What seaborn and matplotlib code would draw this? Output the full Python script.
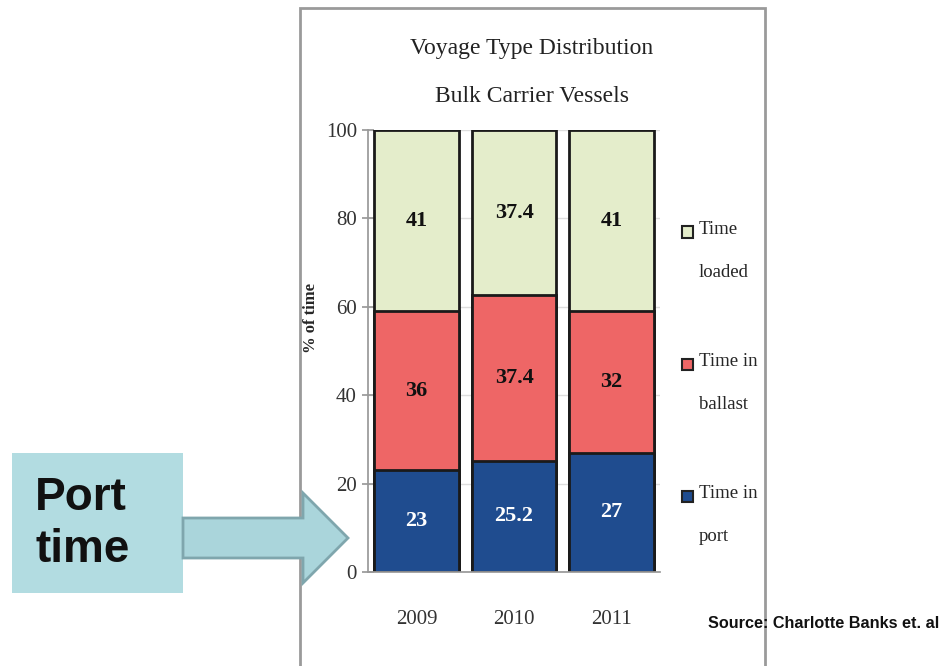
import matplotlib.pyplot as plt
import matplotlib.patches as mpatches
from matplotlib.legend_handler import HandlerBase
import pandas as pd
import seaborn as sns

years = ["2009", "2010", "2011"]
port = [23, 25.2, 27]
ballast = [36, 37.4, 32]
loaded = [41, 37.4, 41]
series_names = ["Time in\nport", "Time in\nballast", "Time\nloaded"]
colors = ["#1F4C8F", "#EE6666", "#E4EDCB"]

sns.set_theme(style="white")
plt.rcParams["font.family"] = ["Liberation Serif", "DejaVu Serif"]


class TopSquare(HandlerBase):
    # small square at the top of the handle box so it lines up with the first text line
    def create_artists(self, legend, orig_handle, xdescent, ydescent, width, height,
                       fontsize, trans):
        s = 0.6 * fontsize
        r = mpatches.Rectangle((-xdescent, -ydescent + height - s), s, s,
                               facecolor=orig_handle.get_facecolor(),
                               edgecolor="#222222", lw=1.5, transform=trans)
        return [r]


W, H = 942, 666
fig = plt.figure(figsize=(W / 100, H / 100), dpi=100)
ax = fig.add_axes([368 / W, 1 - 572 / H, (660 - 368) / W, (572 - 130) / H])

df = pd.DataFrame({"year": years, "port": port, "ballast": ballast, "loaded": loaded})
df["top_ballast"] = df["port"] + df["ballast"]
df["top_loaded"] = df["top_ballast"] + df["loaded"]

# stacked bars drawn from the tallest down
for col, c in zip(["top_loaded", "top_ballast", "port"], colors[::-1]):
    sns.barplot(data=df, x="year", y=col, color=c, saturation=1, width=0.87,
                edgecolor="#1a1a1a", linewidth=2, ax=ax)

for i in range(len(years)):
    ax.text(i, port[i] / 2, f"{port[i]:g}", ha="center", va="center",
            fontsize=16, fontweight="bold", color="white")
    ax.text(i, port[i] + ballast[i] / 2, f"{ballast[i]:g}", ha="center", va="center",
            fontsize=16, fontweight="bold", color="#111111")
    ax.text(i, port[i] + ballast[i] + loaded[i] / 2, f"{loaded[i]:g}", ha="center",
            va="center", fontsize=16, fontweight="bold", color="#111111")

ax.set_ylim(0, 100)
ax.set_xlim(-0.5, 2.5)
ax.set_yticks(range(0, 101, 20))
ax.yaxis.grid(True, color="#dddddd", lw=1)
ax.set_axisbelow(True)
ax.set_xlabel("")
ax.set_ylabel("% of time", fontweight="bold", fontsize=12)
ax.yaxis.set_label_coords((319 - 368) / 292, (572 - 318) / 442)
ax.set_xticks([0.5, 1.5], minor=True)
ax.tick_params(axis="x", which="major", length=0, pad=27, labelsize=15, labelcolor="#333333")
ax.tick_params(axis="x", which="minor", length=5, color="#999999", direction="out")
ax.tick_params(axis="y", length=8, direction="inout", color="#999999", pad=4,
               labelsize=15, labelcolor="#333333", left=True)
for s in ["top", "right"]:
    ax.spines[s].set_visible(False)
for s in ["left", "bottom"]:
    ax.spines[s].set_color("#999999")

ax.set_title("Voyage Type Distribution\nBulk Carrier Vessels", fontsize=17,
             linespacing=2.7, pad=20, color="#222222", x=(532 - 368) / 292)

handles = [mpatches.Patch(facecolor=c) for c in colors[::-1]]
leg = ax.legend(handles, series_names[::-1], loc="center left",
                bbox_to_anchor=(1.075, 0.427), frameon=False, fontsize=13.5,
                labelspacing=3.85, handlelength=0.6, handleheight=3.9,
                handletextpad=0.3, borderpad=0, borderaxespad=0,
                handler_map={mpatches.Patch: TopSquare()})
for t in leg.get_texts():
    t.set_linespacing(3.0)

# outer chart frame
fig.patches.append(mpatches.Rectangle((300 / W, -0.02), (765 - 300) / W, (666 - 8) / H + 0.02,
                                      transform=fig.transFigure, fill=False,
                                      edgecolor="#9a9a9a", lw=2))

# "Port time" callout box and arrow
fig.patches.append(mpatches.Rectangle((12 / W, 1 - 593 / H), 171 / W, 140 / H,
                                      transform=fig.transFigure, facecolor="#B2DCE1",
                                      edgecolor="none"))
arrow_px = [(183, 518), (303, 518), (303, 493), (348, 538), (303, 583), (303, 558), (183, 558)]
fig.patches.append(mpatches.Polygon([(x / W, 1 - y / H) for x, y in arrow_px],
                                    closed=True, transform=fig.transFigure,
                                    facecolor="#AAD5DB", edgecolor="#7FA6AD", lw=2))
fig.text(35 / W, 1 - 524 / H, "Port\ntime", ha="left", va="center", fontsize=33,
         fontweight="bold", family="Liberation Sans", linespacing=1.25, color="#111111")

fig.text(708 / W, 1 - 628 / H, "Source: Charlotte Banks et. al", ha="left", va="baseline",
         fontsize=11.7, fontweight="bold", family="Liberation Sans", color="#111111")

fig.savefig("out.png", dpi=100)
